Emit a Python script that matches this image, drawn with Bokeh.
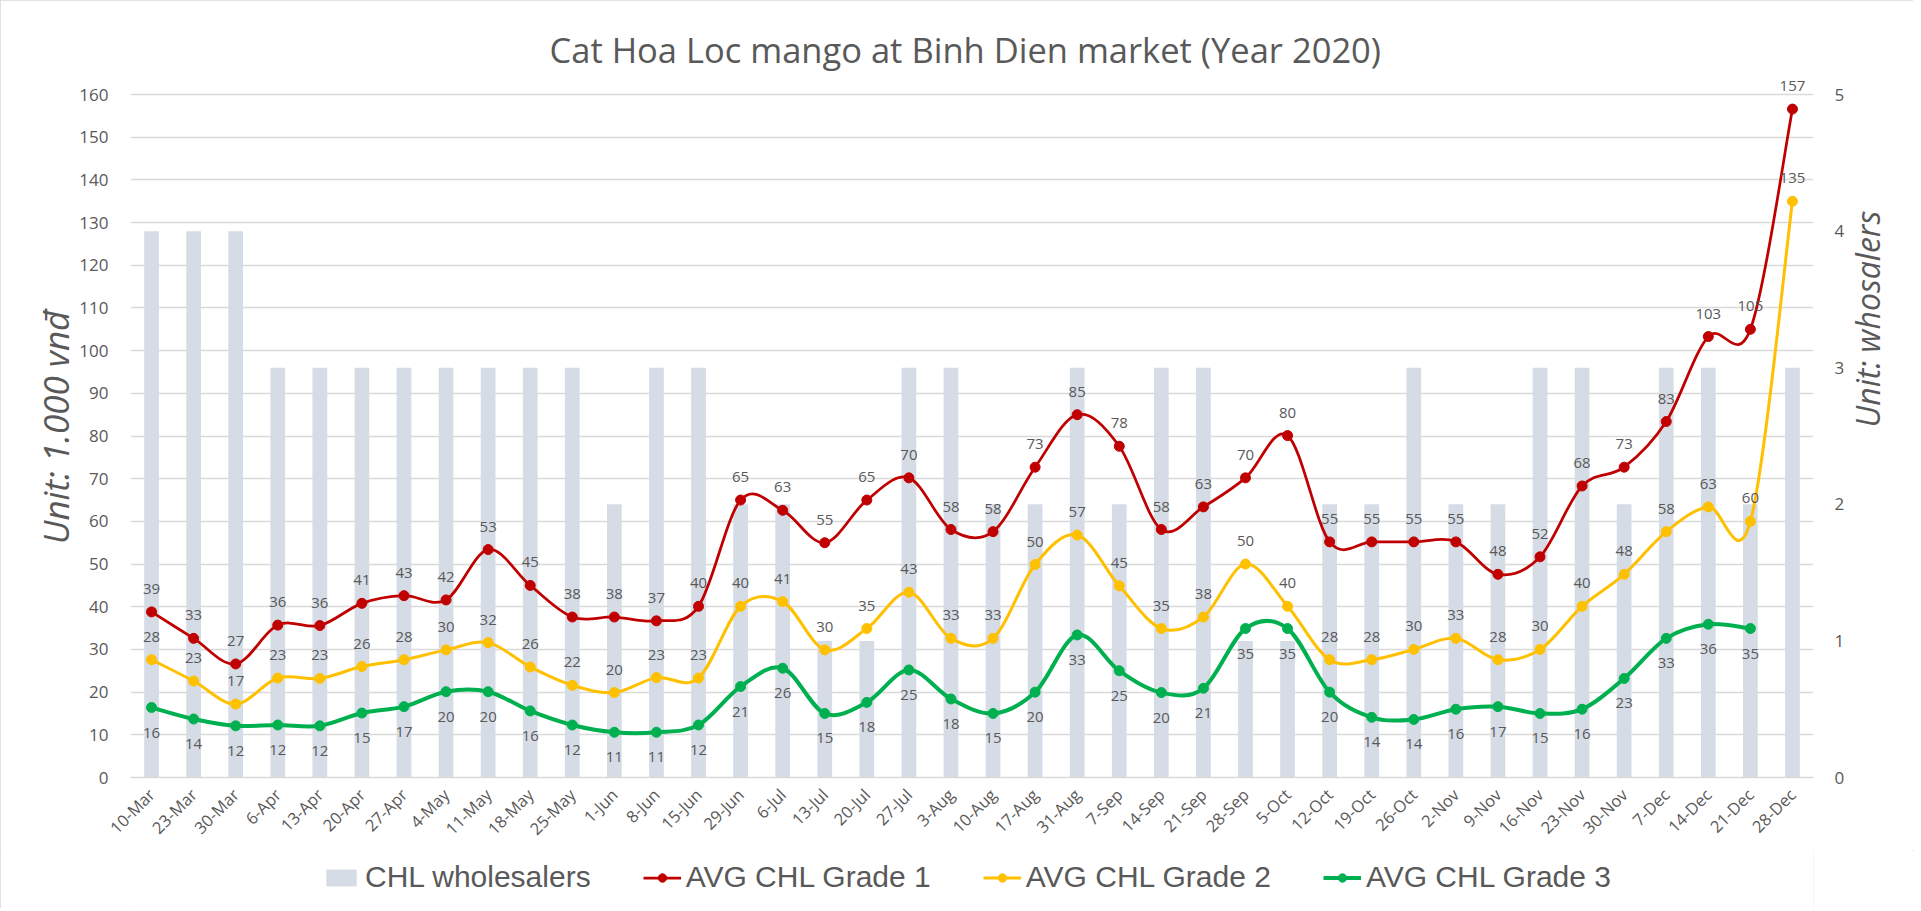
import math
from bokeh.plotting import figure
from bokeh.layouts import column
from bokeh.models import (FactorRange, Range1d, LinearAxis, Legend, LegendItem,
                          ColumnDataSource, SingleIntervalTicker)
from bokeh.core.properties import value
from bokeh.embed import file_html
from bokeh.resources import INLINE

# ---------------- data ----------------
dates = ["10-Mar", "23-Mar", "30-Mar", "6-Apr", "13-Apr", "20-Apr", "27-Apr", "4-May", "11-May",
         "18-May", "25-May", "1-Jun", "8-Jun", "15-Jun", "29-Jun", "6-Jul", "13-Jul", "20-Jul",
         "27-Jul", "3-Aug", "10-Aug", "17-Aug", "31-Aug", "7-Sep", "14-Sep", "21-Sep", "28-Sep",
         "5-Oct", "12-Oct", "19-Oct", "26-Oct", "2-Nov", "9-Nov", "16-Nov", "23-Nov", "30-Nov",
         "7-Dec", "14-Dec", "21-Dec", "28-Dec"]

wholesalers = [4, 4, 4, 3, 3, 3, 3, 3, 3, 3, 3, 2, 3, 3, 2, 2, 1, 1, 3, 3,
               2, 2, 3, 2, 3, 3, 1, 1, 2, 2, 3, 2, 2, 3, 3, 2, 3, 3, 2, 3]

grade1 = [38.8, 32.6, 26.6, 35.7, 35.6, 40.8, 42.6, 41.6, 53.4, 45.0, 37.6, 37.6, 36.7, 40.1,
          65.0, 62.6, 55.0, 65.0, 70.2, 58.1, 57.6, 72.7, 85.0, 77.6, 58.1, 63.4, 70.2, 80.1,
          55.2, 55.2, 55.2, 55.2, 47.6, 51.7, 68.3, 72.7, 83.4, 103.3, 105.0, 156.6]

grade2 = [27.6, 22.6, 17.2, 23.3, 23.2, 26.0, 27.6, 29.9, 31.6, 25.9, 21.6, 19.9, 23.4, 23.3,
          40.1, 41.2, 29.9, 34.9, 43.4, 32.6, 32.6, 49.9, 56.8, 44.9, 34.9, 37.6, 50.0, 40.1,
          27.6, 27.6, 30.0, 32.6, 27.6, 30.0, 40.1, 47.6, 57.6, 63.4, 60.0, 135.0]

grade3 = [16.4, 13.7, 12.1, 12.3, 12.1, 15.1, 16.6, 20.1, 20.1, 15.6, 12.3, 10.6, 10.6, 12.3,
          21.3, 25.6, 15.0, 17.6, 25.2, 18.4, 15.0, 20.0, 33.4, 25.0, 19.9, 20.9, 34.9, 34.9,
          20.0, 14.1, 13.6, 16.0, 16.6, 15.0, 16.0, 23.2, 32.6, 35.9, 34.9]

series_names = ["CHL wholesalers", "AVG CHL Grade 1", "AVG CHL Grade 2", "AVG CHL Grade 3"]
title_text = "Cat Hoa Loc mango at Binh Dien market (Year 2020)"
left_title = "Unit: 1.000 vnđ"
right_title = "Unit: whosalers"

# ---------------- style ----------------
RED, YEL, GRN = "#C00000", "#FFC000", "#00B050"
BAR = "#D6DCE5"
GRID = "#D9D9D9"
TXT = "#595959"
FONT = "Open Sans"

# the value scale reaches slightly past 160 so the top data label is not clipped;
# gridlines and ticks still stop at 160 (and 5 on the right).
Y_MAX = 160
Y_VIEW = 164
R_MAX = 5

W = 1913
H_MAIN, H_LEG = 850, 58
PX_PER = (777 - 94) / Y_MAX
MB_L = 130
MB_T = int(round(777 - Y_VIEW * PX_PER))
MB_R = W - 1823
MB_B = H_MAIN - 777

p = figure(x_range=FactorRange(*dates), y_range=Range1d(0, Y_VIEW), width=W, height=H_MAIN,
           output_backend="svg", toolbar_location=None,
           min_border_left=MB_L, min_border_right=MB_R, min_border_top=MB_T, min_border_bottom=MB_B)
p.extra_y_ranges = {"right": Range1d(0, R_MAX * Y_VIEW / Y_MAX)}
p.outline_line_color = None
p.background_fill_color = "white"
p.border_fill_color = "white"

# title
p.title.text = title_text
p.title.align = "left"
p.title.offset = 549 - MB_L
p.title.text_font = FONT
p.title.text_font_size = "34.5px"
p.title.text_font_style = "normal"
p.title.text_color = TXT
p.title.standoff = 10

# grid
p.xgrid.grid_line_color = None
p.ygrid.grid_line_color = GRID
p.ygrid.grid_line_width = 1.5
p.yaxis.ticker = SingleIntervalTicker(interval=10)

ax_l = p.yaxis[0]
ax_r = LinearAxis(y_range_name="right", ticker=SingleIntervalTicker(interval=1))
p.add_layout(ax_r, "right")
for ax, sto, lab, lsto, fs in [(ax_l, 16, left_title, -3, "35px"), (ax_r, 15, right_title, 20, "32px")]:
    ax.axis_line_color = None
    ax.major_tick_line_color = None
    ax.minor_tick_line_color = None
    ax.major_label_text_font = FONT
    ax.major_label_text_font_size = "17px"
    ax.major_label_text_color = TXT
    ax.major_label_standoff = sto
    ax.axis_label = lab
    ax.axis_label_text_font = FONT
    ax.axis_label_text_font_style = "italic"
    ax.axis_label_text_font_size = fs
    ax.axis_label_text_color = TXT
    ax.axis_label_standoff = lsto
try:
    ax_r.axis_label_orientation = math.pi / 2
except Exception:
    pass

xa = p.xaxis[0]
xa.axis_line_color = GRID
xa.axis_line_width = 1.5
xa.major_tick_line_color = None
xa.minor_tick_line_color = None
xa.major_label_orientation = math.pi / 4
xa.major_label_text_font = FONT
xa.major_label_text_font_size = "16.5px"
xa.major_label_text_color = TXT
xa.major_label_standoff = 8

# bars
p.vbar(x=dates, top=wholesalers, width=0.35, y_range_name="right",
       fill_color=BAR, line_color=None)


def bezier_source(vals):
    n = len(vals)
    xs = [i + 0.5 for i in range(n)]
    d = dict(x0=[], y0=[], x1=[], y1=[], cx0=[], cy0=[], cx1=[], cy1=[])
    for i in range(n - 1):
        i0 = i - 1 if i > 0 else i
        i3 = i + 2 if i + 2 < n else i + 1
        d["x0"].append(xs[i]); d["y0"].append(vals[i])
        d["x1"].append(xs[i + 1]); d["y1"].append(vals[i + 1])
        d["cx0"].append(xs[i] + (xs[i + 1] - xs[i0]) / 6)
        d["cy0"].append(vals[i] + (vals[i + 1] - vals[i0]) / 6)
        d["cx1"].append(xs[i + 1] - (xs[i3] - xs[i]) / 6)
        d["cy1"].append(vals[i + 1] - (vals[i3] - vals[i]) / 6)
    return ColumnDataSource(d)


def lbl(v):
    return str(int(math.floor(v + 0.5)))


line_styles = [(grade1, RED, 2.75, -23), (grade2, YEL, 3.0, -23), (grade3, GRN, 4.0, 25)]
for vals, col, lw, off in line_styles:
    xs = dates[:len(vals)]
    p.bezier(x0="x0", y0="y0", x1="x1", y1="y1", cx0="cx0", cy0="cy0", cx1="cx1", cy1="cy1",
             source=bezier_source(vals), line_color=col, line_width=lw)
    p.scatter(x=xs, y=vals, size=10, fill_color=col, line_color=col)
    p.text(x=xs, y=vals, text=[lbl(v) for v in vals], text_font=value(FONT), text_font_size="15px",
           text_color=TXT, text_align="center", text_baseline="middle", y_offset=off)

# ---------------- legend strip ----------------
lg = figure(width=W, height=H_LEG, output_backend="svg", toolbar_location=None,
            x_range=Range1d(0, 1), y_range=Range1d(0, 1), min_border=0)
lg.axis.visible = False
lg.grid.visible = False
lg.outline_line_color = None
lg.background_fill_color = "white"
lg.border_fill_color = "white"

# proxy glyphs sit outside the visible range: they only feed the legend swatches
items = [LegendItem(label=series_names[0],
                    renderers=[lg.vbar(x=[10], top=[10], width=0.1, fill_color=BAR, line_color=None)])]
for (vals, col, lw, off), name in zip(line_styles, series_names[1:]):
    r1 = lg.line(x=[10, 11], y=[10, 10], line_color=col, line_width=lw)
    r2 = lg.scatter(x=[10], y=[10], size=10, fill_color=col, line_color=col)
    items.append(LegendItem(label=name, renderers=[r1, r2]))

legend = Legend(items=items, orientation="horizontal", location=(322 - MB_L, 14),
                label_text_font="Liberation Sans", label_text_font_size="30px",
                label_text_color=TXT, glyph_width=38, glyph_height=21, label_standoff=5,
                spacing=52, padding=2, margin=0, border_line_color=None,
                background_fill_alpha=0)
lg.add_layout(legend)

layout = column(p, lg, spacing=0)
layout.styles = {"outline": "1px solid #D9D9D9", "outline-offset": "-1px"}

open("out.html", "w").write(file_html(layout, INLINE))
